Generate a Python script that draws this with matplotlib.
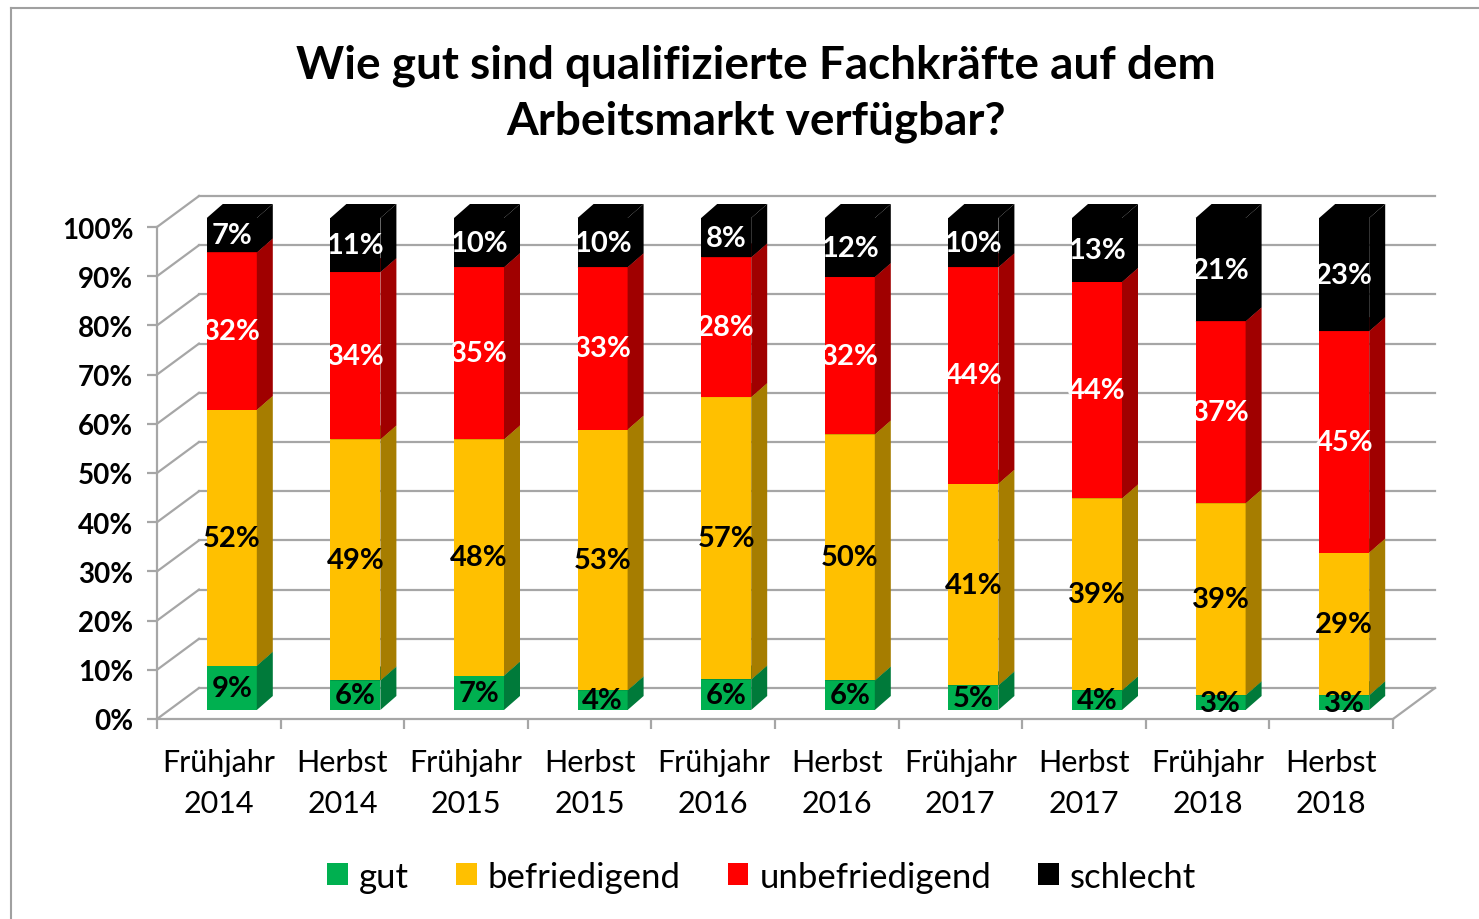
import numpy as np
import matplotlib.pyplot as plt
from matplotlib.patches import Polygon, Patch

plt.rcParams['font.family'] = ['Lato', 'DejaVu Sans']

kategorien = ['Frühjahr\n2014', 'Herbst\n2014', 'Frühjahr\n2015', 'Herbst\n2015', 'Frühjahr\n2016',
              'Herbst\n2016', 'Frühjahr\n2017', 'Herbst\n2017', 'Frühjahr\n2018', 'Herbst\n2018']
gut = [9, 6, 7, 4, 6.2, 6, 5, 4, 3, 3]
befriedigend = [52, 49, 48, 53, 57.4, 50, 41, 39, 39, 29]
unbefriedigend = [32, 34, 35, 33, 28.4, 32, 44, 44, 37, 45]
schlecht = [7, 11, 10, 10, 8, 12, 10, 13, 21, 23]

namen = ['gut', 'befriedigend', 'unbefriedigend', 'schlecht']
farben = ['#00B050', '#FFC000', '#FF0000', '#000000']
seiten = ['#007A3A', '#A67D00', '#A00000', '#000000']
textfarben = ['black', 'black', 'white', 'white']

# Pixelmasse des Diagramms (Vorderebene)
px_kat = 123.6
px_proz = 4.92
n = len(kategorien)

# Tiefenversatz der Wand und der Balken (in Datenkoordinaten)
wdx, wdy = 42 / px_kat, 31 / px_proz
bdx, bdy = 13 / px_kat, 9 / px_proz
sdx, sdy = 16 / px_kat, 14 / px_proz
bw = 50 / px_kat

fig = plt.figure(figsize=(14.79, 9.2), dpi=100)
xmax, ymax = 10.45, 112
ax = fig.add_axes([157 / 1479, 200 / 920, xmax * px_kat / 1479, ymax * px_proz / 920])
ax.set_xlim(0, xmax)
ax.set_ylim(0, ymax)

grau = '#A6A6A6'
for v in range(0, 101, 10):
    ax.plot([0, wdx], [v, v + wdy], color=grau, lw=1.6, zorder=1, clip_on=False)
    ax.plot([wdx, n + wdx], [v + wdy, v + wdy], color=grau, lw=1.6, zorder=1, clip_on=False)
ax.plot([n, n + wdx], [0, wdy], color=grau, lw=1.6, zorder=1, clip_on=False)

werte = np.array([gut, befriedigend, unbefriedigend, schlecht])
unten = np.zeros(n)
for s in range(len(namen)):
    for i in range(n):
        b = unten[i] + bdy
        t = unten[i] + werte[s, i] + bdy
        xl = i + 0.5 + bdx - bw / 2
        xr = xl + bw
        ax.add_patch(Polygon([(xl, b), (xr, b), (xr, t), (xl, t)], closed=True,
                             facecolor=farben[s], edgecolor='none', zorder=3))
        ax.add_patch(Polygon([(xr, b), (xr + sdx, b + sdy), (xr + sdx, t + sdy), (xr, t)], closed=True,
                             facecolor=seiten[s], edgecolor='none', zorder=3))
        ax.add_patch(Polygon([(xl, t), (xl + sdx, t + sdy), (xr + sdx, t + sdy), (xr, t)], closed=True,
                             facecolor=seiten[s], edgecolor='none', zorder=3))
        ax.text(xl + bw / 2, (b + t) / 2, f'{werte[s, i]:.0f}%', ha='center', va='center',
                fontsize=21, fontweight='bold', color=textfarben[s], zorder=5)
    unten = unten + werte[s]

for sp in ['top', 'right']:
    ax.spines[sp].set_visible(False)
ax.spines['left'].set_bounds(0, 100)
ax.spines['bottom'].set_bounds(0, n)
for sp in ['left', 'bottom']:
    ax.spines[sp].set_color(grau)
    ax.spines[sp].set_linewidth(1.6)

ax.set_yticks(range(0, 101, 10))
ax.set_yticklabels([f'{v}%' for v in range(0, 101, 10)], fontsize=20, fontweight='bold')
ax.tick_params(axis='y', length=7, width=1.6, color=grau, pad=10)

ax.set_xticks(range(0, n + 1))
ax.set_xticklabels([])
ax.set_xticks(np.arange(n) + 0.5, minor=True)
ax.set_xticklabels(kategorien, minor=True, fontsize=22, linespacing=1.55)
ax.tick_params(axis='x', which='major', length=7, width=1.6, color=grau)
ax.tick_params(axis='x', which='minor', length=0, pad=21)

fig.text(0.511, 0.898, 'Wie gut sind qualifizierte Fachkräfte auf dem\nArbeitsmarkt verfügbar?',
         ha='center', va='center', fontsize=33, fontweight='bold', linespacing=1.4)

griffe = [Patch(facecolor=farben[s], label=namen[s]) for s in range(len(namen))]
fig.legend(handles=griffe, loc='center', bbox_to_anchor=(0.515, 0.046), ncol=4, frameon=False,
           fontsize=25, handlelength=0.6, handleheight=0.6, handletextpad=0.32, columnspacing=1.35)

fig.add_artist(plt.Line2D([11 / 1479, 11 / 1479], [0, 1 - 9 / 920], color='#A0A0A0', lw=1.5))
fig.add_artist(plt.Line2D([11 / 1479, 1], [1 - 9 / 920, 1 - 9 / 920], color='#A0A0A0', lw=1.5))

fig.savefig('out.png', dpi=100)
